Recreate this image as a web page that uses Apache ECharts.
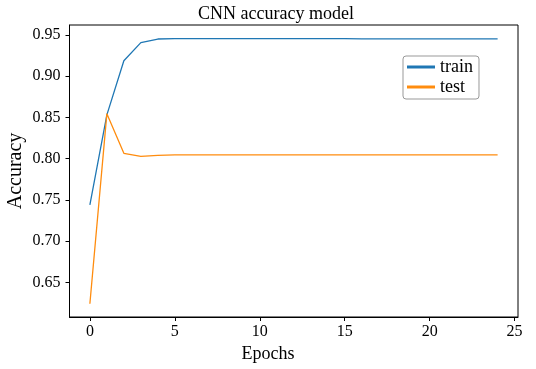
<!DOCTYPE html>
<html>
<head>
<meta charset="utf-8">
<script src="https://cdn.jsdelivr.net/npm/echarts@6/dist/echarts.min.js"></script>
<style>html,body{margin:0;padding:0;background:#fff;}#c{width:536px;height:369px;}</style>
</head>
<body>
<div id="c"></div>
<script>
const epochs = [0,1,2,3,4,5,6,7,8,9,10,11,12,13,14,15,16,17,18,19,20,21,22,23,24];
const train = [0.744,0.853,0.9187,0.9406,0.945,0.9455,0.9454,0.9454,0.9454,0.9454,0.9454,0.9454,0.9454,0.9454,0.9454,0.9454,0.9453,0.9453,0.9453,0.9453,0.9453,0.9453,0.9453,0.9453,0.9453];
const test = [0.624,0.8545,0.8065,0.8028,0.804,0.8045,0.8045,0.8045,0.8045,0.8045,0.8045,0.8045,0.8045,0.8045,0.8045,0.8045,0.8045,0.8045,0.8045,0.8045,0.8045,0.8045,0.8045,0.8045,0.8045];
const xTicks = [0,5,10,15,20,25];
const yTicks = [0.65,0.70,0.75,0.80,0.85,0.90,0.95];

const FONT = '"Liberation Serif", "Times New Roman", serif';
const chart = echarts.init(document.getElementById('c'), null, {renderer:'canvas'});
chart.setOption({
  animation: false,
  backgroundColor: '#fff',
  grid: {left: 69.5, right: 18, top: 25, bottom: 52, show: true, borderColor: '#000', borderWidth: 1, containLabel: false},
  xAxis: {
    type: 'value', min: -1.2, max: 25.2,
    axisLine: {show: true, onZero: false, lineStyle: {color: '#000', width: 1}},
    axisTick: {show: true, length: 4, inside: false, customValues: xTicks, lineStyle: {color: '#000'}},
    axisLabel: {customValues: xTicks, margin: 7, color: '#000', fontFamily: FONT, fontSize: 16},
    splitLine: {show: false}
  },
  yAxis: {
    type: 'value', min: 0.608, max: 0.962,
    axisLine: {show: true, onZero: false, lineStyle: {color: '#000', width: 1}},
    axisTick: {show: true, length: 4, inside: false, customValues: yTicks, lineStyle: {color: '#000'}},
    axisLabel: {customValues: yTicks, margin: 9, color: '#000', fontFamily: FONT, fontSize: 16,
      formatter: v => v.toFixed(2)},
    splitLine: {show: false}
  },
  legend: {
    orient: 'vertical', left: 403, top: 56,
    padding: [2, 6, 3, 4], itemGap: 2, itemWidth: 28, itemHeight: 3,
    borderColor: '#999999', borderWidth: 1, borderRadius: 3, backgroundColor: '#fff',
    icon: 'rect',
    textStyle: {fontFamily: FONT, fontSize: 18, color: '#000', lineHeight: 18},
    data: ['train', 'test']
  },
  series: [
    {name: 'train', type: 'line', data: epochs.map((e, i) => [e, train[i]]), showSymbol: false,
     color: '#1f77b4', lineStyle: {width: 1.3, color: '#1f77b4'}},
    {name: 'test', type: 'line', data: epochs.map((e, i) => [e, test[i]]), showSymbol: false,
     color: '#ff8c0e', lineStyle: {width: 1.3, color: '#ff8c0e'}}
  ],
  graphic: [
    {type: 'text', x: 276, y: 14.7, style: {text: 'CNN accuracy model', font: '18px ' + FONT, fill: '#000', align: 'center', verticalAlign: 'middle'}},
    {type: 'text', x: 268, y: 354, style: {text: 'Epochs', font: '18px ' + FONT, fill: '#000', align: 'center', verticalAlign: 'middle'}},
    {type: 'text', x: 15.3, y: 171, rotation: Math.PI / 2, style: {text: 'Accuracy', font: '20px ' + FONT, fill: '#000', align: 'center', verticalAlign: 'middle'}}
  ]
});
</script>
</body>
</html>
